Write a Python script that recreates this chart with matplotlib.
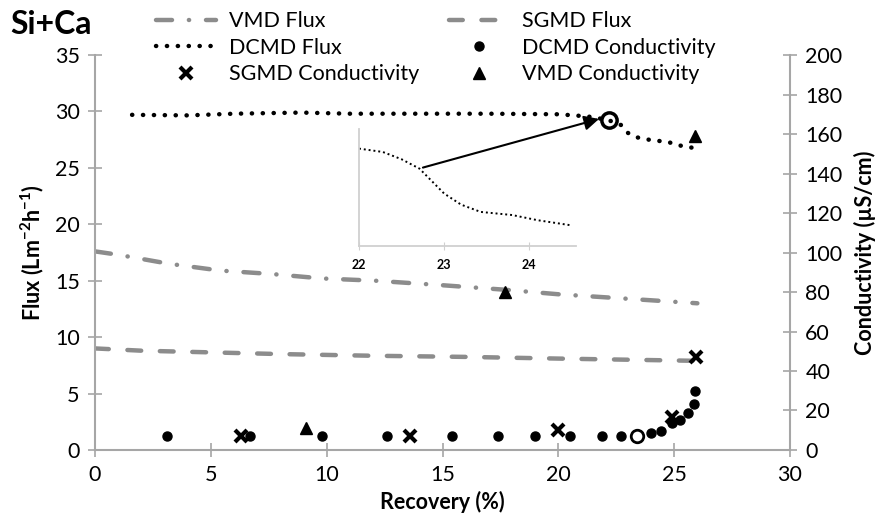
import matplotlib
matplotlib.use('Agg')
import matplotlib.pyplot as plt

plt.rcParams['font.family'] = ['Lato', 'DejaVu Sans']
plt.rcParams['mathtext.fontset'] = 'custom'
plt.rcParams['mathtext.rm'] = 'Lato'
plt.rcParams['mathtext.bf'] = 'Lato:bold'

# flux curves (left axis)
dcmd_flux_x = [1.6, 4, 6, 8.9, 11, 14, 17, 20, 21.0, 21.5, 22.2, 22.7, 23.0, 23.4, 23.9, 24.3, 24.8, 25.2, 25.7, 26.1]
dcmd_flux_y = [29.7, 29.65, 29.8, 29.9, 29.8, 29.8, 29.8, 29.75, 29.6, 29.5, 29.2, 28.8, 28.1, 27.7, 27.5, 27.4, 27.25, 27.0, 26.8, 26.8]
vmd_flux_x = [0, 1, 3.2, 5.4, 7.6, 9.8, 12.1, 15, 17.7, 20, 23, 26]
vmd_flux_y = [17.6, 17.3, 16.5, 15.9, 15.6, 15.2, 15.0, 14.6, 14.2, 13.8, 13.4, 13.0]
sgmd_flux_x = [0, 2, 5, 8, 12, 16, 20, 23, 26]
sgmd_flux_y = [9.0, 8.8, 8.65, 8.5, 8.35, 8.25, 8.1, 8.0, 7.9]

# conductivity points (right axis)
dcmd_cond_x = [3.1, 6.7, 9.8, 12.6, 15.4, 17.4, 19.0, 20.5, 21.9, 22.7, 24.0, 24.45, 24.9, 25.25, 25.6, 25.85, 25.9]
dcmd_cond_y = [7, 7, 7, 7, 7, 7, 7, 7, 7, 7, 8.4, 9.6, 13.5, 15.2, 18.6, 23.3, 30]
sgmd_cond_x = [6.3, 13.6, 20.0, 24.9, 25.95]
sgmd_cond_y = [7, 7, 10, 16.5, 47]
vmd_cond_x = [9.1, 17.7, 25.9]
vmd_cond_y = [11, 80, 159]

# highlighted points
ring_flux = (22.2, 29.2)
open_cond = (23.4, 7)

# zoomed detail of the DCMD flux drop
inset_x = [22.0, 22.28, 22.5, 22.71, 23.0, 23.2, 23.43, 23.8, 24.1, 24.5]
inset_y = [29.76, 29.63, 29.35, 28.99, 28.03, 27.6, 27.32, 27.2, 27.0, 26.8]

grey = '#8c8c8c'
axis_grey = '#a6a6a6'
fs = 15.5

fig = plt.figure(figsize=(8.93, 5.26), dpi=100)
ax = fig.add_axes([0.1064, 0.1445, 0.7783, 0.7509])
ax2 = ax.twinx()

l_vmd, = ax.plot(vmd_flux_x, vmd_flux_y, color=grey, lw=3.2, dashes=(3.6, 3.8, 0.05, 3.8),
                 dash_capstyle='round', label='VMD Flux')
l_sgmd, = ax.plot(sgmd_flux_x, sgmd_flux_y, color=grey, lw=3.2, dashes=(3.1, 4.2),
                  dash_capstyle='round', label='SGMD Flux')
l_dcmd, = ax.plot(dcmd_flux_x, dcmd_flux_y, color='black', lw=3.2, dashes=(0.05, 2.4),
                  dash_capstyle='round', label='DCMD Flux')
ax.plot([ring_flux[0]], [ring_flux[1]], 'o', ms=11, mfc='none', mec='black', mew=2.5)

p_dcmd, = ax2.plot(dcmd_cond_x, dcmd_cond_y, 'o', color='black', ms=6.5, label='DCMD Conductivity')
p_sgmd, = ax2.plot(sgmd_cond_x, sgmd_cond_y, 'x', color='black', ms=9, mew=3, label='SGMD Conductivity')
p_vmd, = ax2.plot(vmd_cond_x, vmd_cond_y, '^', color='black', ms=8, label='VMD Conductivity')
ax2.plot([open_cond[0]], [open_cond[1]], 'o', ms=9, mfc='white', mec='black', mew=2)

ax.set_xlim(0, 30)
ax.set_ylim(0, 35)
ax2.set_ylim(0, 200)
ax.set_xticks(range(0, 31, 5))
ax.set_yticks(range(0, 36, 5))
ax2.set_yticks(range(0, 201, 20))

for a in (ax, ax2):
    a.spines['top'].set_visible(False)
    for s in ('left', 'right', 'bottom'):
        a.spines[s].set_color(axis_grey)
        a.spines[s].set_linewidth(1.5)
    a.tick_params(direction='inout', length=10, width=1.2, color=axis_grey, labelsize=fs, pad=6)
ax.spines['right'].set_visible(False)
ax2.spines['left'].set_visible(False)
ax2.spines['bottom'].set_visible(False)

ax.set_xlabel('Recovery (%)', fontsize=fs, fontweight='bold', labelpad=4)
ax.set_ylabel('Flux (Lm$^{\\mathbf{-2}}$h$^{\\mathbf{-1}}$)', fontsize=fs, fontweight='bold', labelpad=6)
ax2.set_ylabel('Conductivity (µS/cm)', fontsize=fs, fontweight='bold', labelpad=8)

fig.text(0.011, 0.953, 'Si+Ca', fontsize=23, fontweight='bold', va='center', ha='left')

fig.legend([l_vmd, l_dcmd, p_sgmd, l_sgmd, p_dcmd, p_vmd],
           ['VMD Flux', 'DCMD Flux', 'SGMD Conductivity', 'SGMD Flux', 'DCMD Conductivity', 'VMD Conductivity'],
           ncol=2, loc='upper left', bbox_to_anchor=(0.153, 1.015), frameon=False, fontsize=fs,
           handlelength=2.8, handletextpad=0.6, columnspacing=1.35, labelspacing=0.3)

# inset
axins = fig.add_axes([0.402, 0.532, 0.243, 0.222])
axins.set_facecolor('none')
axins.plot(inset_x, inset_y, color='black', lw=1.4, dashes=(1, 1.5))
axins.set_xlim(22, 24.55)
axins.set_ylim(26, 30.5)
axins.set_xticks([22, 23, 24])
axins.set_yticks([])
for s in ('top', 'right'):
    axins.spines[s].set_visible(False)
for s in ('left', 'bottom'):
    axins.spines[s].set_color('#d0d0d0')
    axins.spines[s].set_linewidth(1.3)
axins.tick_params(direction='inout', length=6, color='#d0d0d0', labelsize=9, pad=6)
for t in axins.get_xticklabels():
    t.set_fontweight('bold')

axins.annotate('', xy=(21.87, 29.4), xycoords=ax.transData, xytext=(22.72, 29.0), textcoords='data',
               arrowprops=dict(arrowstyle='-|>', color='black', lw=1.5, mutation_scale=22),
               annotation_clip=False)

fig.savefig('out.png', dpi=100)
